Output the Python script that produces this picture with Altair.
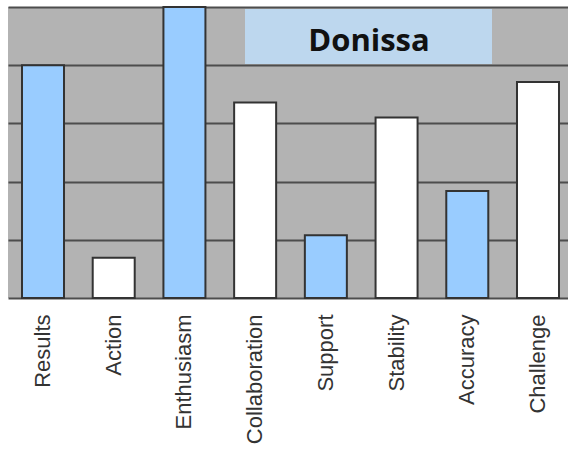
import altair as alt
import pandas as pd

# Bar chart: score per behavioural trait, highlighted traits in blue
traits = ["Results", "Action", "Enthusiasm", "Collaboration",
          "Support", "Stability", "Accuracy", "Challenge"]
scores = [4.0, 0.69, 5.0, 3.36, 1.08, 3.10, 1.84, 3.71]
groups = ["hi", "lo", "hi", "lo", "hi", "lo", "hi", "lo"]
name = "Donissa"

df = pd.DataFrame({"trait": traits, "score": scores, "group": groups})

x_enc = alt.X(
    "trait:N",
    sort=traits,
    scale=alt.Scale(range=[0, 565], paddingInner=0.406, paddingOuter=0.198),
    axis=alt.Axis(
        title=None, labelAngle=-90, labelAlign="right", labelBaseline="middle",
        labelFont="Liberation Sans", labelFontSize=22, labelColor="#333333",
        labelPadding=16, ticks=False, domain=False, grid=False,
    ),
)
y_enc = alt.Y(
    "score:Q",
    scale=alt.Scale(domain=[0, 5], nice=False),
    axis=alt.Axis(
        title=None, labels=False, ticks=False, domain=False,
        values=[0, 1, 2, 3, 4, 5], grid=True,
        gridColor="#4d4d4d", gridWidth=2, gridOpacity=1,
    ),
)

bars = alt.Chart(df).mark_bar(stroke="#333333", strokeWidth=2).encode(
    x=x_enc,
    y=y_enc,
    color=alt.Color(
        "group:N",
        scale=alt.Scale(domain=["hi", "lo"], range=["#99ccff", "#ffffff"]),
        legend=None,
    ),
)

label_df = pd.DataFrame({"label": [name]})
box = alt.Chart(label_df).mark_rect(color="#bdd7ee").encode(
    x=alt.value(237), x2=alt.value(484), y=alt.value(2), y2=alt.value(57)
)
label = alt.Chart(label_df).mark_text(
    font="Open Sans", fontWeight="bold", fontSize=31, color="#111111",
    align="center", baseline="alphabetic",
).encode(x=alt.value(361), y=alt.value(44), text="label:N")

chart = (
    alt.layer(bars, box, label)
    .properties(
        width=560, height=291,
        autosize=alt.AutoSizeParams(type="none"),
        padding={"left": 8, "top": 7, "right": 0, "bottom": 156},
        background="#ffffff",
    )
    .configure_view(fill="#b3b3b3", stroke=None)
)

chart.save("out.html", embed_options={"renderer": "svg", "actions": False})
